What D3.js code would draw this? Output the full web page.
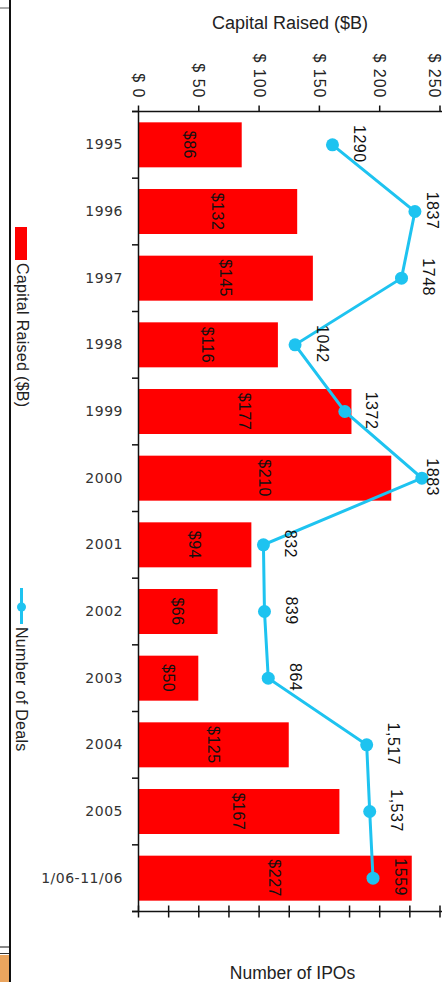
<!DOCTYPE html>
<html>
<head>
<meta charset="utf-8">
<script src="https://cdn.jsdelivr.net/npm/d3@7"></script>
<style>
  html, body { margin: 0; padding: 0; background: #fff; }
  svg { display: block; }
</style>
</head>
<body>
<svg id="chart" width="442" height="982"></svg>
<script>
const categories = ["1995","1996","1997","1998","1999","2000","2001","2002","2003","2004","2005","1/06-11/06"];
const capitalRaised = [86,132,145,116,177,210,94,66,50,125,167,227];
const capitalLabels = ["$86","$132","$145","$116","$177","$210","$94","$66","$50","$125","$167","$227"];
const ipoCounts = [1290,1837,1748,1042,1372,1883,832,839,864,1517,1537,1559];
const ipoLabels = ["1290","1837","1748","1042","1372","1883","832","839","864","1,517","1,537","1559"];
const capitalTicks = [0,50,100,150,200,250];
const ipoTicks = [0,200,400,600,800,1000,1200,1400,1600,1800,2000];
const legendLabels = ["Capital Raised ($B)", "Number of Deals"];
const titleTop = "Capital Raised ($B)";
const titleBottom = "Number of IPOs";

const RED = "#ff0000";
const BLUE = "#1ec3f0";
const FONT = "'Liberation Sans', Arial, sans-serif";

const svg = d3.select("#chart");

// page decoration (left frame edge of the source image)
svg.append("line").attr("x1", 10).attr("x2", 10).attr("y1", 0).attr("y2", 982)
  .attr("stroke", "#111").attr("stroke-width", 2);
svg.append("line").attr("x1", 0).attr("x2", 9).attr("y1", 8).attr("y2", 8)
  .attr("stroke", "#555").attr("stroke-width", 1);
svg.append("line").attr("x1", 0).attr("x2", 9).attr("y1", 947).attr("y2", 947)
  .attr("stroke", "#888").attr("stroke-width", 2);
svg.append("line").attr("x1", 0).attr("x2", 9).attr("y1", 953.5).attr("y2", 953.5)
  .attr("stroke", "#333").attr("stroke-width", 1);
svg.append("rect").attr("x", 0).attr("y", 955).attr("width", 9).attr("height", 27)
  .attr("fill", "#eba55e");

// scales
const x = d3.scaleLinear().domain([0, 250]).range([138, 439.5]);
const xIpo = d3.scaleLinear().domain([0, 2000]).range([138, 439.5]);
const y = d3.scaleBand().domain(categories).range([111.5, 911.5])
  .paddingInner(0.325).paddingOuter(0.1625);
const cy = c => y(c) + y.bandwidth() / 2;

// bars
svg.append("g").selectAll("rect").data(categories).join("rect")
  .attr("x", x(0))
  .attr("y", d => y(d))
  .attr("width", (d, i) => x(capitalRaised[i]) - x(0))
  .attr("height", y.bandwidth())
  .attr("fill", RED);

// bar labels
svg.append("g").selectAll("text").data(categories).join("text")
  .attr("transform", (d, i) => `translate(${(x(0) + x(capitalRaised[i])) / 2},${cy(d)}) rotate(90)`)
  .attr("text-anchor", "middle")
  .attr("dominant-baseline", "central")
  .attr("font-family", FONT).attr("font-size", 16).attr("letter-spacing", 0.5)
  .attr("fill", "#111")
  .text((d, i) => capitalLabels[i]);

// top axis
const topAxis = svg.append("g").attr("transform", "translate(0,111.5)")
  .call(d3.axisTop(x).tickValues(capitalTicks).tickSize(6).tickSizeOuter(0)
    .tickFormat(d => "$ " + d));
topAxis.select(".domain").remove();
topAxis.append("line").attr("x1", 132).attr("x2", 442).attr("stroke", "#111").attr("stroke-width", 1.5);
topAxis.selectAll(".tick line").attr("stroke", "#111").attr("stroke-width", 1.5);
topAxis.selectAll(".tick text")
  .attr("x", 0).attr("y", 0).attr("dy", null)
  .attr("transform", d => `translate(${Math.min(0, 434 - x(d))},-13) rotate(90)`)
  .attr("text-anchor", "end")
  .attr("dominant-baseline", "central")
  .attr("font-family", FONT).attr("font-size", 16).attr("letter-spacing", 1)
  .attr("fill", "#222");

// bottom axis (number of IPOs)
const botAxis = svg.append("g").attr("transform", "translate(0,911.5)")
  .call(d3.axisBottom(xIpo).tickValues(ipoTicks).tickSize(6).tickSizeOuter(0).tickFormat(""));
botAxis.select(".domain").remove();
botAxis.append("line").attr("x1", 132).attr("x2", 442).attr("stroke", "#111").attr("stroke-width", 1.5);
botAxis.selectAll(".tick line").attr("y1", -6).attr("y2", 6).attr("stroke", "#111").attr("stroke-width", 1.5);

// left category axis
const leftAxis = svg.append("g").attr("transform", `translate(${x(0)},0)`)
  .call(d3.axisLeft(y).tickSize(0).tickPadding(15));
leftAxis.select(".domain").attr("stroke", "#111").attr("stroke-width", 1.5);
leftAxis.selectAll(".tick text")
  .attr("font-family", "'DejaVu Sans', Verdana, sans-serif")
  .attr("font-size", 14).attr("letter-spacing", 0.5)
  .attr("fill", "#333");
const bounds = d3.range(categories.length + 1).map(i => y.range()[0] + i * y.step());
leftAxis.append("g").selectAll("line").data(bounds).join("line")
  .attr("x1", -6).attr("x2", 0).attr("y1", d => d).attr("y2", d => d)
  .attr("stroke", "#111").attr("stroke-width", 1.5);

// IPO line
const pts = categories.map((c, i) => ({ c, v: ipoCounts[i], label: ipoLabels[i] }));
svg.append("path").datum(pts)
  .attr("d", d3.line().x(d => xIpo(d.v)).y(d => cy(d.c)))
  .attr("fill", "none").attr("stroke", BLUE).attr("stroke-width", 3);
svg.append("g").selectAll("circle").data(pts).join("circle")
  .attr("cx", d => xIpo(d.v)).attr("cy", d => cy(d.c)).attr("r", 6.5)
  .attr("fill", BLUE);
svg.append("g").selectAll("text").data(pts).join("text")
  .attr("transform", d => `translate(${Math.min(xIpo(d.v) + 27, 432)},${cy(d.c) - 1}) rotate(90)`)
  .attr("text-anchor", "middle")
  .attr("dominant-baseline", "central")
  .attr("font-family", FONT).attr("font-size", 16).attr("letter-spacing", 0.5)
  .attr("fill", "#111")
  .text(d => d.label);

// titles
svg.append("text").attr("x", 290).attr("y", 29).attr("text-anchor", "middle")
  .attr("font-family", FONT).attr("font-size", 18).attr("fill", "#222")
  .text(titleTop);
svg.append("text").attr("x", 292.5).attr("y", 979).attr("text-anchor", "middle")
  .attr("font-family", FONT).attr("font-size", 17.5).attr("fill", "#222")
  .text(titleBottom);

// legend
const leg = svg.append("g");
leg.append("rect").attr("x", 15).attr("y", 227).attr("width", 12).attr("height", 33).attr("fill", RED);
leg.append("text").attr("transform", "translate(22,263) rotate(90)")
  .attr("dominant-baseline", "central")
  .attr("font-family", FONT).attr("font-size", 16).attr("letter-spacing", 0.3).attr("fill", "#222")
  .text(legendLabels[0]);
leg.append("line").attr("x1", 21.5).attr("x2", 21.5).attr("y1", 588).attr("y2", 624)
  .attr("stroke", BLUE).attr("stroke-width", 3);
leg.append("circle").attr("cx", 21.5).attr("cy", 607).attr("r", 4.5).attr("fill", BLUE);
leg.append("text").attr("transform", "translate(21.5,627) rotate(90)")
  .attr("dominant-baseline", "central")
  .attr("font-family", FONT).attr("font-size", 16).attr("letter-spacing", 0.3).attr("fill", "#222")
  .text(legendLabels[1]);
</script>
</body>
</html>
